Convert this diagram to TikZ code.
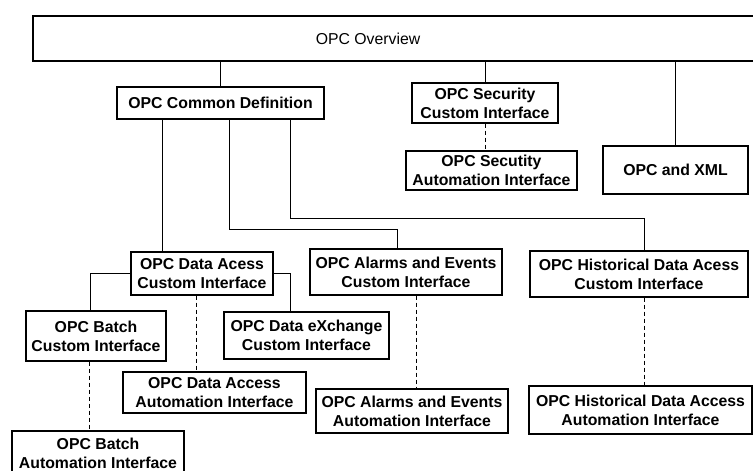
\documentclass[tikz,border=0pt]{standalone}
\usepackage{fontspec}
\setmainfont{Liberation Sans}
\newcommand{\opcfont}{\fontsize{15.8}{19}\selectfont\bfseries}
\newcommand{\opcplain}{\fontsize{15.8}{19}\selectfont}
\begin{document}
\begin{tikzpicture}[x=1pt,y=-1pt,
  box/.style={draw, line width=1.1pt, inner sep=0pt, align=center, font=\opcfont},
  link/.style={line width=1pt},
  dlink/.style={line width=1pt, dash pattern=on 4pt off 3pt}]
\useasboundingbox (0,0) rectangle (753,471);

% overview bar across the top (right edge runs off the page)
\node[draw, line width=1.1pt, minimum width=727, minimum height=45, inner sep=0pt] (ov) at (396.5,38.5) {};
\node[font=\opcplain] (ovt) at (368,38.5) {OPC Overview};

% boxes
\node[box, minimum width=207, minimum height=32] (cd) at (220.5,103) {OPC Common Definition};
\node[box, minimum width=146, minimum height=40] (sc) at (485,103) {OPC Security\\Custom Interface};
\node[box, minimum width=171, minimum height=39] (sa) at (491.5,170.5) {OPC Secutity\\Automation Interface};
\node[box, minimum width=145, minimum height=48] (xml) at (675.5,170) {OPC and XML};

\node[box, minimum width=142, minimum height=43] (dac) at (202,273.5) {OPC Data Acess\\Custom Interface};
\node[box, minimum width=192, minimum height=46] (aec) at (406,272) {OPC Alarms and Events\\Custom Interface};
\node[box, minimum width=218, minimum height=46] (hdc) at (639,274) {OPC Historical Data Acess\\Custom Interface};

\node[box, minimum width=140, minimum height=50] (bc) at (96,336) {OPC Batch\\Custom Interface};
\node[box, minimum width=165, minimum height=47] (dx) at (306.5,335.5) {OPC Data eXchange\\Custom Interface};
\node[box, minimum width=183, minimum height=41] (daa) at (214.5,392.5) {OPC Data Access\\Automation Interface};
\node[box, minimum width=192, minimum height=44] (aea) at (412,411) {OPC Alarms and Events\\Automation Interface};
\node[box, minimum width=223, minimum height=48] (hda) at (640.5,410) {OPC Historical Data Access\\Automation Interface};
\node[box, minimum width=172, minimum height=45] (ba) at (98,453.5) {OPC Batch\\Automation Interface};

% attachment points on box edges
\path (cd.south west) ++(46,0) coordinate (cd1);
\path (cd.south west) ++(113,0) coordinate (cd2);
\path (cd.south west) ++(174,0) coordinate (cd3);
\path (aec.north west) ++(88,0) coordinate (aec1);
\path (hdc.north west) ++(115,0) coordinate (hdc1);
\path (bc.north west) ++(65,0) coordinate (bc1);
\path (dx.north west) ++(67,0) coordinate (dx1);
\path (dac.south west) ++(66,0) coordinate (dac1);
\path (aec.south west) ++(107,0) coordinate (aec2);
\path (hdc.south west) ++(115,0) coordinate (hdc2);
\path (bc.south west) ++(64,0) coordinate (bc2);

% solid links
\draw[link] (cd.north) -- (cd.north |- ov.south);
\draw[link] (sc.north) -- (sc.north |- ov.south);
\draw[link] (xml.north) -- (xml.north |- ov.south);
\draw[link] (cd1) -- (cd1 |- dac.north);
\draw[link] (cd2) -- ++(0,110) -| (aec1);
\draw[link] (cd3) -- ++(0,99) -| (hdc1);
\draw[link] (dac.west) -| (bc1);
\draw[link] (dac.east) -| (dx1);

% dashed links to automation interfaces
\draw[dlink] (sc.south) -- (sc.south |- sa.north);
\draw[dlink] (dac1) -- (dac1 |- daa.north);
\draw[dlink] (aec2) -- (aec2 |- aea.north);
\draw[dlink] (hdc2) -- (hdc2 |- hda.north);
\draw[dlink] (bc2) -- (bc2 |- ba.north);
\end{tikzpicture}
\end{document}
